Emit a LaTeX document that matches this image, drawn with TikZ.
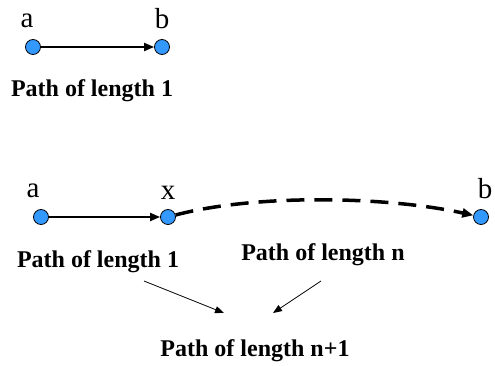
\documentclass[tikz,border=0pt]{standalone}
\usepackage{fontspec}
\setmainfont{Liberation Serif}
\usetikzlibrary{arrows.meta}
\tikzset{
  dot/.style={circle,draw=black,line width=0.8pt,fill={rgb,255:red,51;green,153;blue,255},minimum size=15pt,inner sep=0pt},
  letter/.style={anchor=base,inner sep=0pt,font=\fontsize{29}{29}\selectfont},
  caption/.style={anchor=base,inner sep=0pt,font=\fontsize{24}{24}\selectfont\bfseries},
  solidarrow/.style={line width=2pt,-{Triangle[length=10pt,width=8pt]}},
  dasharrow/.style={line width=3.5pt,dash pattern=on 18pt off 10pt,-{Triangle[length=11pt,width=9pt]}},
  thinarrow/.style={line width=0.8pt,-{Triangle[length=9pt,width=7pt]}}
}
\begin{document}
\begin{tikzpicture}[x=1pt,y=-1pt]
\useasboundingbox (0,0) rectangle (495,366);
% top
\node[dot] (a1) at (33,47) {};
\node[dot] (b1) at (162,47) {};
\node[letter] (la1) at (27,28) {a};
\node[letter] (lb1) at (162,29) {b};
\draw[solidarrow] (a1) -- (b1);
\node[caption] (c1) at (92,97) {Path of length 1};
% bottom
\node[dot] (a2) at (41,217) {};
\node[dot] (x2) at (168,217) {};
\node[dot] (b2) at (481,217) {};
\node[letter] (la2) at (33,197) {a};
\node[letter] (lx2) at (168,200) {x};
\node[letter] (lb2) at (485,199) {b};
\draw[solidarrow] (a2) -- (x2);
\draw[dasharrow] (x2) .. controls (255,194) and (385,196) .. (b2);
\node[caption] (c2) at (98,267) {Path of length 1};
\node[caption] (c3) at (323,260) {Path of length n};
\node[caption] (c4) at (255,356) {Path of length n+1};
\coordinate (t1) at (144,281);
\coordinate (h1) at (224,313);
\coordinate (t2) at (321,281);
\coordinate (h2) at (273,313);
\draw[thinarrow] (t1) -- (h1);
\draw[thinarrow] (t2) -- (h2);
\end{tikzpicture}
\end{document}
